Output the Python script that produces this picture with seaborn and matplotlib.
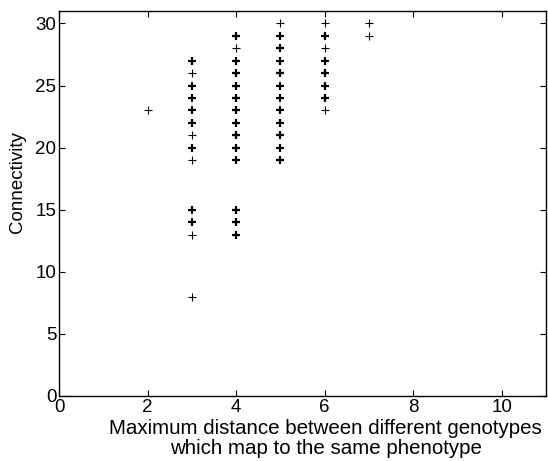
import pandas as pd
import matplotlib
matplotlib.use("Agg")
import matplotlib.pyplot as plt
import seaborn as sns

# ==========================================
# DATA
# ==========================================
distance = [2,
            3, 3, 3, 3, 3, 3, 3, 3, 3, 3, 3, 3, 3,
            4, 4, 4, 4, 4, 4, 4, 4, 4, 4, 4, 4, 4, 4,
            5, 5, 5, 5, 5, 5, 5, 5, 5, 5, 5, 5,
            6, 6, 6, 6, 6, 6, 6, 6,
            7, 7]
connectivity = [23,
                8, 13, 14, 15, 19, 20, 21, 22, 23, 24, 25, 26, 27,
                13, 14, 15, 19, 20, 21, 22, 23, 24, 25, 26, 27, 28, 29,
                19, 20, 21, 22, 23, 24, 25, 26, 27, 28, 29, 30,
                23, 24, 25, 26, 27, 28, 29, 30,
                29, 30]
# 1 = single point, 2 = several overlapping points (drawn bolder)
multiplicity = [1,
                1, 1, 2, 2, 1, 2, 1, 2, 2, 2, 2, 1, 2,
                2, 2, 2, 2, 2, 2, 2, 2, 2, 2, 2, 2, 1, 2,
                2, 2, 2, 2, 2, 2, 2, 2, 2, 2, 2, 1,
                1, 2, 2, 2, 2, 1, 2, 1,
                1, 1]

df = pd.DataFrame({"distance": distance, "connectivity": connectivity,
                   "multiplicity": multiplicity})

sns.set_theme(style="ticks")
plt.rcParams["font.family"] = ["Liberation Sans", "DejaVu Sans"]
plt.rcParams["text.color"] = "black"
plt.rcParams["axes.labelcolor"] = "black"

fig = plt.figure(figsize=(5.48, 4.61), dpi=100)
ax = fig.add_axes([0.108, 0.141, 0.888, 0.835])

sns.scatterplot(data=df[df.multiplicity == 1], x="distance", y="connectivity",
                marker="+", color="black", s=30, linewidth=0.8, ax=ax)
sns.scatterplot(data=df[df.multiplicity > 1], x="distance", y="connectivity",
                marker="+", color="black", s=30, linewidth=1.6, ax=ax)

ax.set_xlim(0, 11)
ax.set_ylim(0, 31)
ax.set_xticks([0, 2, 4, 6, 8, 10])
ax.set_yticks([0, 5, 10, 15, 20, 25, 30])
ax.tick_params(direction="in", top=True, right=True, length=4, width=0.8,
               labelsize=13.5, pad=2, colors="black")
for sp in ax.spines.values():
    sp.set_linewidth(1.0)
    sp.set_color("black")

ax.set_xlabel("Maximum distance between different genotypes\nwhich map to the same phenotype",
              fontsize=14.8, linespacing=1.05, color="black")
ax.set_ylabel("Connectivity", fontsize=13.5, color="black")
ax.xaxis.set_label_coords(0.548, -0.06, transform=ax.transAxes)
ax.xaxis.label.set_verticalalignment("top")
ax.yaxis.set_label_coords(-0.086, 0.555)
ax.yaxis.label.set_verticalalignment("center")

fig.savefig("out.png", dpi=100)
